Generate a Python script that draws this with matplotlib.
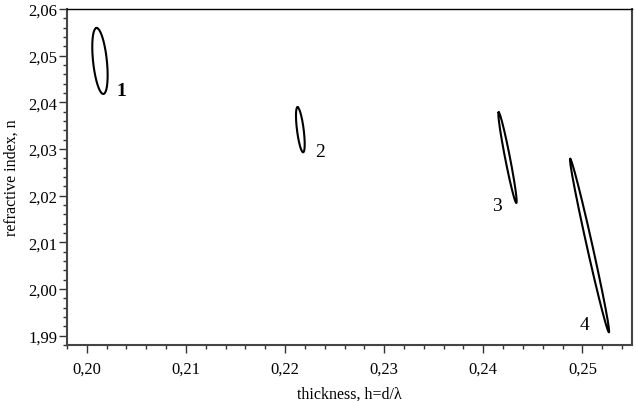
import numpy as np
import matplotlib
matplotlib.use('Agg')
import matplotlib.pyplot as plt
from matplotlib.ticker import MultipleLocator, FuncFormatter

plt.rcParams['font.family'] = ['Liberation Serif', 'DejaVu Serif']

# confidence ellipses: ends of the long axis and half width along h
x_top = [0.20099, 0.22126, 0.24155, 0.24877]
y_top = [2.05593, 2.03894, 2.03786, 2.02786]
x_bot = [0.20166, 0.22182, 0.24333, 0.25267]
y_bot = [2.04179, 2.02929, 2.01843, 1.99072]
half_w = [0.00070, 0.00034, 0.00025, 0.00029]

labels = ['1', '2', '3', '4']
label_x = [0.20344, 0.22355, 0.24134, 0.25022]
label_y = [2.04243, 2.02957, 2.0180, 1.99229]
label_bold = [True, False, False, False]

fig = plt.figure(figsize=(6.36, 4.02), dpi=100)
ax = fig.add_axes([67/636, 1-346/402, (632-67)/636, (346-10)/402])

t = np.linspace(0, 2*np.pi, 300)
for i in range(len(labels)):
    cx = (x_top[i] + x_bot[i]) / 2
    cy = (y_top[i] + y_bot[i]) / 2
    ux, uy = x_top[i] - cx, y_top[i] - cy
    xs = cx + np.cos(t)*ux + np.sin(t)*half_w[i]
    ys = cy + np.cos(t)*uy
    ax.plot(xs, ys, color='black', lw=1.5)
    ax.text(label_x[i], label_y[i], labels[i], fontsize=14, ha='center', va='center',
            fontweight='bold' if label_bold[i] else 'normal')

ax.set_xlim(0.198, 0.255)
ax.set_ylim(1.988, 2.06)
ax.xaxis.set_major_locator(MultipleLocator(0.01))
ax.xaxis.set_minor_locator(MultipleLocator(0.002))
ax.yaxis.set_major_locator(MultipleLocator(0.01))
ax.yaxis.set_minor_locator(MultipleLocator(0.002))
ax.xaxis.set_major_formatter(FuncFormatter(lambda v, p: f'{v:.2f}'.replace('.', ',')))
ax.yaxis.set_major_formatter(FuncFormatter(lambda v, p: f'{v:.2f}'.replace('.', ',')))
ax.tick_params(which='major', length=5.5, width=1, labelsize=12, color='#333333')
ax.tick_params(which='minor', length=3, width=1, color='#333333')
ax.tick_params(axis='x', pad=6)
ax.tick_params(axis='y', pad=1.5)
for s in ['left', 'bottom', 'right']:
    ax.spines[s].set_linewidth(1.5)
    ax.spines[s].set_color('#444444')
ax.spines['top'].set_linewidth(1.0)

ax.set_xlabel('thickness, h=d/\u03bb', fontsize=11.5, labelpad=6)
ax.set_ylabel('refractive index, n', fontsize=11.5, labelpad=6)

fig.savefig('out.png', dpi=100)
